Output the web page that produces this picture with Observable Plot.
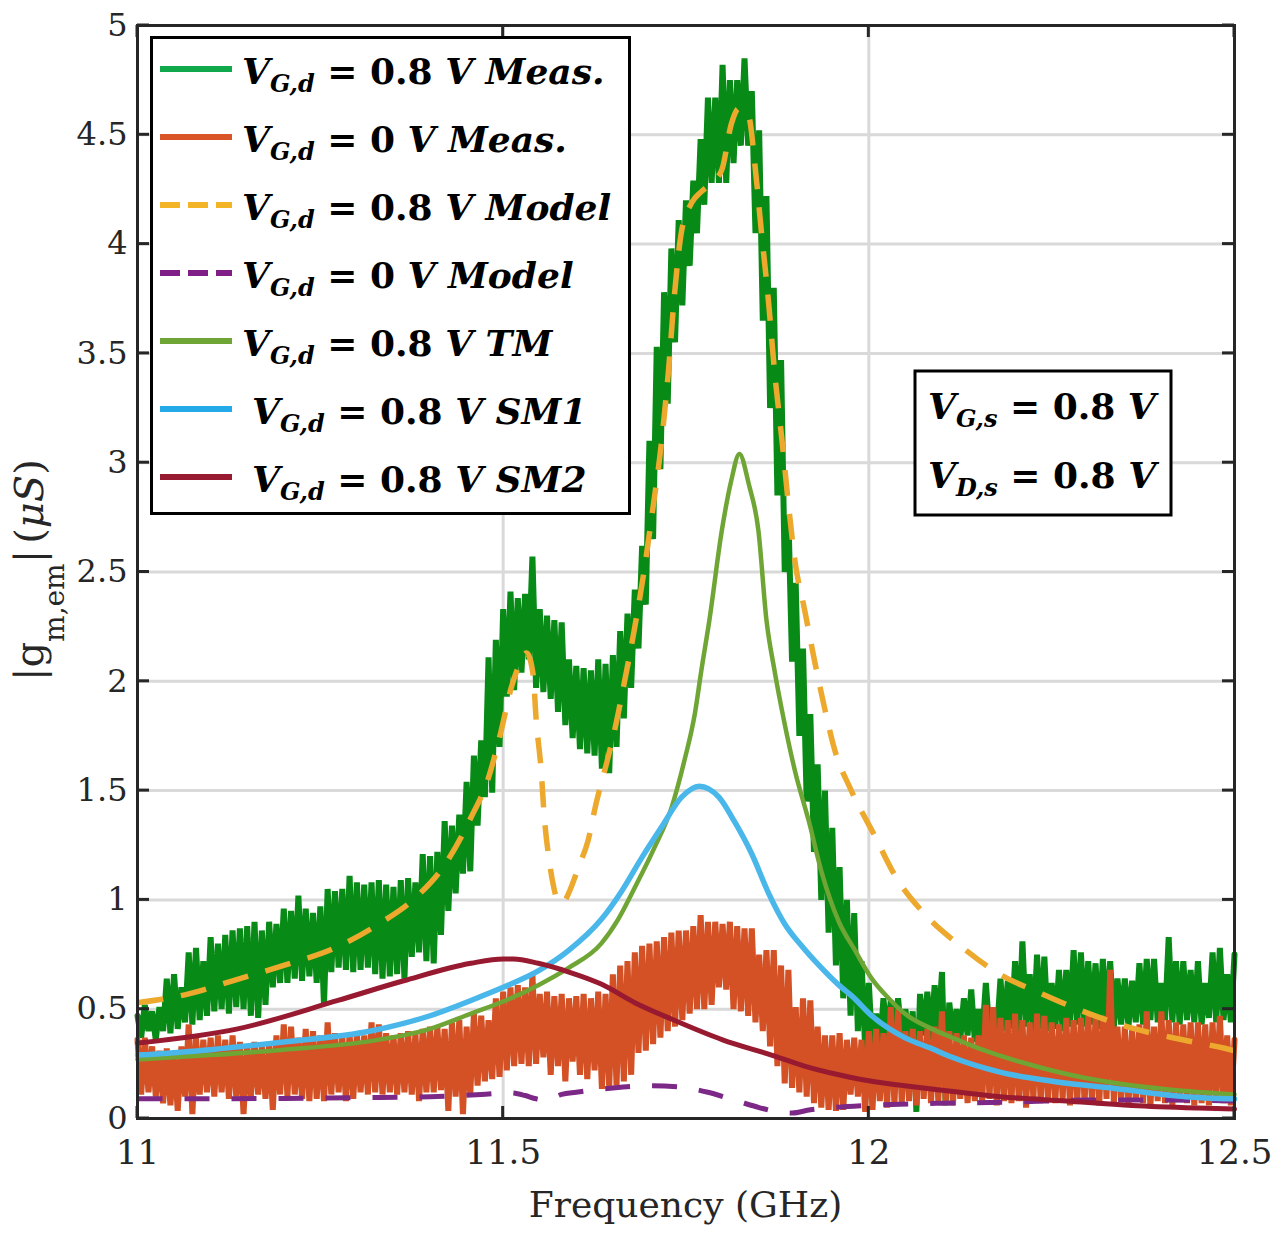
<!DOCTYPE html>
<html>
<head>
<meta charset="utf-8">
<script src="https://cdn.jsdelivr.net/npm/d3@7"></script>
<script src="https://cdn.jsdelivr.net/npm/@observablehq/plot@0.6"></script>
<style>
  body { margin: 0; background: #fff; }
  #chart svg { display: block; }
</style>
</head>
<body>
<div id="chart"></div>
<script>
// ---------------- DATA ----------------
const xTicks = [11, 11.5, 12, 12.5];
const xTickLabels = ["11", "11.5", "12", "12.5"];
const yTicks = [0, 0.5, 1, 1.5, 2, 2.5, 3, 3.5, 4, 4.5, 5];
const yTickLabels = ["0", "0.5", "1", "1.5", "2", "2.5", "3", "3.5", "4", "4.5", "5"];

// measured traces: sampled from 11 GHz every 0.005 GHz
const measStart = 11.0;
const measStep = 0.005;

const measG08 = [
  0.47, 0.37, 0.52, 0.40, 0.49, 0.36, 0.51, 0.40, 0.64, 0.39,
  0.66, 0.41, 0.60, 0.44, 0.76, 0.43, 0.78, 0.45, 0.72, 0.47,
  0.83, 0.49, 0.80, 0.50, 0.84, 0.48, 0.86, 0.51, 0.87, 0.50,
  0.88, 0.47, 0.90, 0.46, 0.86, 0.52, 0.90, 0.60, 0.89, 0.62,
  0.96, 0.62, 0.95, 0.64, 1.02, 0.63, 0.96, 0.65, 0.94, 0.62,
  0.97, 0.52, 1.05, 0.67, 1.04, 0.69, 1.05, 0.68, 1.11, 0.67,
  1.08, 0.68, 1.07, 0.69, 1.08, 0.66, 1.09, 0.64, 1.07, 0.65,
  1.06, 0.66, 1.09, 0.64, 1.10, 0.74, 1.08, 0.76, 1.21, 0.72,
  1.20, 0.71, 1.22, 0.84, 1.36, 0.95, 1.34, 1.03, 1.39, 1.12,
  1.54, 1.13, 1.66, 1.34, 1.73, 1.47, 2.11, 1.49, 2.19, 1.70,
  2.33, 1.93, 2.41, 1.96, 2.38, 2.04, 2.40, 2.10, 2.57, 1.97,
  2.33, 1.95, 2.30, 1.92, 2.28, 1.86, 2.27, 1.80, 2.10, 1.74,
  2.07, 1.69, 2.06, 1.67, 2.05, 1.66, 2.10, 1.60, 2.08, 1.58,
  2.12, 1.70, 2.23, 1.83, 2.31, 1.97, 2.42, 2.15, 2.62, 2.35,
  3.10, 2.65, 3.53, 2.97, 3.78, 3.27, 3.98, 3.55, 4.11, 3.72,
  4.20, 3.90, 4.29, 4.05, 4.48, 4.18, 4.67, 4.28, 4.67, 4.28,
  4.82, 4.28, 4.75, 4.37, 4.75, 4.45, 4.85, 4.45, 4.70, 4.05,
  4.52, 3.65, 4.22, 3.25, 3.80, 2.85, 3.47, 2.50, 2.76, 2.09,
  2.45, 1.75, 2.15, 1.45, 1.85, 1.22, 1.62, 1.00, 1.50, 0.85,
  1.33, 0.70, 1.15, 0.55, 1.00, 0.47, 0.94, 0.40, 0.72, 0.32,
  0.62, 0.30, 0.48, 0.31, 0.55, 0.36, 0.54, 0.38, 0.55, 0.35,
  0.50, 0.36, 0.49, 0.03, 0.57, 0.38, 0.58, 0.36, 0.61, 0.40,
  0.67, 0.06, 0.53, 0.37, 0.50, 0.36, 0.55, 0.38, 0.59, 0.35,
  0.50, 0.37, 0.62, 0.39, 0.50, 0.38, 0.64, 0.40, 0.63, 0.41,
  0.72, 0.40, 0.81, 0.42, 0.66, 0.39, 0.75, 0.41, 0.74, 0.40,
  0.62, 0.41, 0.68, 0.40, 0.68, 0.42, 0.77, 0.43, 0.76, 0.42,
  0.72, 0.43, 0.71, 0.41, 0.73, 0.44, 0.72, 0.42, 0.64, 0.43,
  0.64, 0.42, 0.63, 0.44, 0.71, 0.43, 0.73, 0.45, 0.73, 0.44,
  0.62, 0.45, 0.83, 0.44, 0.72, 0.43, 0.72, 0.45, 0.68, 0.44,
  0.72, 0.43, 0.62, 0.46, 0.76, 0.44, 0.78, 0.45, 0.66, 0.44,
  0.75
];

const measO0 = [
  0.36, 0.11, 0.37, 0.12, 0.33, 0.10, 0.31, 0.07, 0.32, 0.06,
  0.30, 0.035, 0.33, 0.10, 0.43, 0.02, 0.37, 0.11, 0.36, 0.12,
  0.37, 0.10, 0.38, 0.12, 0.36, 0.09, 0.38, 0.10, 0.35, 0.02,
  0.34, 0.10, 0.35, 0.11, 0.33, 0.09, 0.35, 0.04, 0.38, 0.11,
  0.43, 0.10, 0.42, 0.11, 0.37, 0.09, 0.41, 0.08, 0.40, 0.09,
  0.38, 0.08, 0.44, 0.11, 0.39, 0.12, 0.38, 0.08, 0.39, 0.09,
  0.39, 0.12, 0.38, 0.11, 0.44, 0.12, 0.43, 0.11, 0.39, 0.12,
  0.38, 0.11, 0.39, 0.12, 0.40, 0.11, 0.39, 0.08, 0.41, 0.12,
  0.42, 0.12, 0.42, 0.13, 0.41, 0.035, 0.44, 0.10, 0.45, 0.02,
  0.42, 0.11, 0.48, 0.15, 0.47, 0.17, 0.45, 0.18, 0.55, 0.19,
  0.58, 0.22, 0.60, 0.24, 0.61, 0.25, 0.60, 0.24, 0.66, 0.25,
  0.57, 0.28, 0.58, 0.20, 0.56, 0.24, 0.57, 0.17, 0.55, 0.26,
  0.56, 0.20, 0.57, 0.18, 0.55, 0.22, 0.58, 0.135, 0.57, 0.14,
  0.66, 0.15, 0.70, 0.17, 0.72, 0.20, 0.76, 0.30, 0.79, 0.31,
  0.80, 0.34, 0.81, 0.37, 0.83, 0.40, 0.85, 0.42, 0.86, 0.45,
  0.86, 0.48, 0.88, 0.50, 0.93, 0.50, 0.90, 0.52, 0.90, 0.60,
  0.89, 0.59, 0.90, 0.50, 0.88, 0.49, 0.87, 0.47, 0.87, 0.44,
  0.75, 0.40, 0.77, 0.33, 0.77, 0.24, 0.70, 0.16, 0.68, 0.14,
  0.51, 0.12, 0.55, 0.10, 0.54, 0.07, 0.42, 0.05, 0.38, 0.04,
  0.38, 0.035, 0.39, 0.04, 0.36, 0.11, 0.37, 0.10, 0.36, 0.03,
  0.40, 0.04, 0.41, 0.08, 0.39, 0.05, 0.51, 0.06, 0.50, 0.07,
  0.40, 0.08, 0.41, 0.06, 0.40, 0.09, 0.41, 0.07, 0.42, 0.08,
  0.49, 0.08, 0.40, 0.06, 0.39, 0.09, 0.38, 0.07, 0.37, 0.08,
  0.38, 0.07, 0.52, 0.09, 0.51, 0.06, 0.46, 0.08, 0.45, 0.07,
  0.48, 0.08, 0.45, 0.05, 0.44, 0.09, 0.48, 0.07, 0.47, 0.08,
  0.44, 0.07, 0.43, 0.09, 0.46, 0.06, 0.45, 0.08, 0.46, 0.07,
  0.47, 0.08, 0.46, 0.06, 0.47, 0.09, 0.68, 0.07, 0.42, 0.08,
  0.42, 0.06, 0.41, 0.08, 0.43, 0.07, 0.49, 0.05, 0.42, 0.08,
  0.49, 0.07, 0.45, 0.06, 0.44, 0.08, 0.43, 0.07, 0.44, 0.06,
  0.44, 0.07, 0.43, 0.06, 0.44, 0.08, 0.47, 0.07, 0.38, 0.06,
  0.36
];

// 0.8 V model
const model08F = [11.00, 11.07, 11.13, 11.20, 11.27, 11.33, 11.38, 11.42, 11.455, 11.48, 11.497, 11.511, 11.52, 11.532, 11.541, 11.545, 11.552, 11.556, 11.563, 11.569, 11.574, 11.579, 11.585, 11.592, 11.603, 11.616, 11.627, 11.641, 11.652, 11.666, 11.679, 11.692, 11.703, 11.716, 11.726, 11.734, 11.744, 11.758, 11.771, 11.785, 11.799, 11.812, 11.822, 11.836, 11.844, 11.853, 11.863, 11.871, 11.881, 11.892, 11.899, 11.912, 11.926, 11.94, 11.953, 11.976, 12.007, 12.036, 12.075, 12.125, 12.179, 12.237, 12.301, 12.364, 12.429, 12.488, 12.5];
const model08V = [0.53, 0.57, 0.63, 0.70, 0.78, 0.89, 1.01, 1.16, 1.37, 1.56, 1.77, 1.97, 2.06, 2.13, 2.03, 1.83, 1.59, 1.39, 1.18, 1.06, 1.00, 0.985, 1.00, 1.05, 1.15, 1.27, 1.44, 1.62, 1.77, 2.00, 2.23, 2.49, 2.75, 3.08, 3.42, 3.76, 4.06, 4.19, 4.24, 4.28, 4.34, 4.55, 4.62, 4.58, 4.37, 4.06, 3.73, 3.42, 3.11, 2.75, 2.55, 2.33, 2.09, 1.87, 1.69, 1.50, 1.30, 1.11, 0.94, 0.79, 0.66, 0.57, 0.48, 0.41, 0.36, 0.32, 0.31];

// 0 V model
const model0F = [11.00, 11.10, 11.20, 11.30, 11.40, 11.47, 11.51, 11.53, 11.545, 11.56, 11.58, 11.60, 11.65, 11.70, 11.74, 11.78, 11.82, 11.85, 11.875, 11.895, 11.92, 11.95, 12.00, 12.10, 12.20, 12.30, 12.40, 12.50];
const model0V = [0.09, 0.09, 0.092, 0.095, 0.10, 0.11, 0.117, 0.105, 0.09, 0.085, 0.11, 0.12, 0.14, 0.15, 0.145, 0.12, 0.08, 0.05, 0.03, 0.025, 0.04, 0.05, 0.06, 0.07, 0.075, 0.085, 0.085, 0.08];

// TM
const tmF = [11.00, 11.10, 11.20, 11.32, 11.40, 11.456, 11.50, 11.548, 11.59, 11.634, 11.657, 11.679, 11.707, 11.730, 11.748, 11.762, 11.771, 11.782, 11.799, 11.812, 11.823, 11.836, 11.849, 11.860, 11.871, 11.884, 11.899, 11.918, 11.936, 11.959, 11.981, 12.004, 12.027, 12.049, 12.086, 12.114, 12.159, 12.227, 12.296, 12.364, 12.433, 12.50];
const tmV = [0.27, 0.29, 0.315, 0.355, 0.41, 0.48, 0.535, 0.61, 0.69, 0.80, 0.91, 1.05, 1.24, 1.42, 1.64, 1.85, 2.05, 2.28, 2.69, 2.92, 3.04, 2.90, 2.69, 2.28, 2.05, 1.82, 1.59, 1.36, 1.12, 0.90, 0.77, 0.64, 0.55, 0.48, 0.41, 0.37, 0.31, 0.24, 0.185, 0.15, 0.126, 0.11];

// SM1
const sm1F = [11.00, 11.10, 11.20, 11.319, 11.40, 11.456, 11.50, 11.548, 11.59, 11.634, 11.662, 11.689, 11.716, 11.744, 11.768, 11.795, 11.816, 11.840, 11.863, 11.885, 11.908, 11.932, 11.959, 11.977, 12.004, 12.049, 12.086, 12.114, 12.182, 12.251, 12.342, 12.433, 12.50];
const sm1V = [0.29, 0.315, 0.35, 0.40, 0.47, 0.54, 0.60, 0.675, 0.77, 0.91, 1.04, 1.19, 1.33, 1.47, 1.52, 1.47, 1.36, 1.21, 1.03, 0.89, 0.79, 0.70, 0.61, 0.56, 0.47, 0.37, 0.32, 0.28, 0.21, 0.17, 0.135, 0.10, 0.09];

// SM2
const sm2F = [11.00, 11.137, 11.274, 11.364, 11.456, 11.50, 11.514, 11.548, 11.59, 11.634, 11.68, 11.73, 11.80, 11.867, 11.912, 11.959, 12.004, 12.049, 12.086, 12.18, 12.27, 12.36, 12.45, 12.50];
const sm2V = [0.345, 0.41, 0.54, 0.63, 0.71, 0.73, 0.73, 0.71, 0.67, 0.615, 0.53, 0.455, 0.36, 0.29, 0.24, 0.20, 0.17, 0.15, 0.135, 0.10, 0.08, 0.06, 0.048, 0.043];

// legend text content
const legendVals = ["0.8", "0", "0.8", "0", "0.8", "0.8", "0.8"];
const legendTags = ["Meas.", "Meas.", "Model", "Model", "TM", "SM1", "SM2"];
const legendSub = "G,d";
const boxSubs = ["G,s", "D,s"];
const boxVal = "0.8";

// ---------------- STYLE ----------------
const cGreen = "#088a17", cGreenLeg = "#0fa84a";
const cOrange = "#d35125", cOrangeLeg = "#d95426";
const cYellow = "#eca92d", cYellowLeg = "#f4b428";
const cPurple = "#7b2886", cPurpleLeg = "#7e1e86";
const cTM = "#6fa535";
const cSM1 = "#4ab7ea", cSM1Leg = "#24aae9";
const cSM2 = "#981a30";
const axisColor = "#262626";
const serif = "DejaVu Serif";

const zip = (F, V) => F.map((f, i) => ({f, v: V[i]}));
const measRows = V => V.map((v, i) => ({f: measStart + i * measStep, v}));

const lineOpts = {x: "f", y: "v"};

const plot = Plot.plot({
  width: 1282,
  height: 1236,
  marginLeft: 137,
  marginRight: 48,
  marginTop: 25,
  marginBottom: 118,
  x: {domain: [11, 12.5]},
  y: {domain: [0, 5]},
  style: {fontFamily: serif, fontSize: "32px", color: axisColor, background: "white"},
  marks: [
    Plot.gridX(xTicks.slice(1, -1), {stroke: "#d9d9d9", strokeOpacity: 1, strokeWidth: 3}),
    Plot.gridY(yTicks.slice(1, -1), {stroke: "#d9d9d9", strokeOpacity: 1, strokeWidth: 3}),
    Plot.line(measRows(measG08), {...lineOpts, stroke: cGreen, strokeWidth: 6, strokeLinejoin: "bevel"}),
    Plot.line(measRows(measO0), {...lineOpts, stroke: cOrange, strokeWidth: 6, strokeLinejoin: "bevel"}),
    Plot.line(zip(model08F, model08V), {...lineOpts, stroke: cYellow, strokeWidth: 5.5, strokeDasharray: "26,18", strokeLinecap: "butt", curve: "monotone-x"}),
    Plot.line(zip(model0F, model0V), {...lineOpts, stroke: cPurple, strokeWidth: 5, strokeDasharray: "25,22", strokeLinecap: "butt", curve: "monotone-x"}),
    Plot.line(zip(tmF, tmV), {...lineOpts, stroke: cTM, strokeWidth: 4.5, curve: "monotone-x"}),
    Plot.line(zip(sm1F, sm1V), {...lineOpts, stroke: cSM1, strokeWidth: 5.5, curve: "monotone-x"}),
    Plot.line(zip(sm2F, sm2V), {...lineOpts, stroke: cSM2, strokeWidth: 5, curve: "monotone-x"}),
    Plot.frame({stroke: axisColor, strokeWidth: 3}),
    Plot.axisX(xTicks, {tickSize: 0, tickPadding: 21, tickFormat: d => xTickLabels[xTicks.indexOf(d)], label: null, fontSize: 34}),
    Plot.axisY(yTicks, {tickSize: 0, tickPadding: 10, tickFormat: d => yTickLabels[yTicks.indexOf(d)], label: null, fontSize: 32})
  ]
});

document.getElementById("chart").appendChild(plot);

// ---------------- OVERLAYS (ticks, labels, legend) ----------------
const sx = plot.scale("x"), sy = plot.scale("y");
const X0 = sx.apply(11), X1 = sx.apply(12.5);
const Y0 = sy.apply(0), Y1 = sy.apply(5);
const root = d3.select(plot);
const tickLen = 12;

const tg = root.append("g").attr("stroke", axisColor).attr("stroke-width", 3);
xTicks.forEach(t => {
  const X = sx.apply(t);
  tg.append("line").attr("x1", X).attr("x2", X).attr("y1", Y0).attr("y2", Y0 - tickLen);
  tg.append("line").attr("x1", X).attr("x2", X).attr("y1", Y1).attr("y2", Y1 + tickLen);
});
yTicks.forEach(t => {
  const Y = sy.apply(t);
  tg.append("line").attr("x1", X0).attr("x2", X0 + tickLen).attr("y1", Y).attr("y2", Y);
  tg.append("line").attr("x1", X1).attr("x2", X1 - tickLen).attr("y1", Y).attr("y2", Y);
});

// x axis label
root.append("text")
  .attr("x", (X0 + X1) / 2).attr("y", 1217)
  .attr("text-anchor", "middle")
  .attr("font-family", serif).attr("font-size", 36).attr("fill", axisColor)
  .text("Frequency (GHz)");

// y axis label
const yl = root.append("text")
  .attr("transform", "translate(43,681) rotate(-90)")
  .attr("text-anchor", "start")
  .attr("font-family", serif).attr("font-size", 40).attr("fill", axisColor)
  .attr("xml:space", "preserve").style("white-space", "pre");
yl.append("tspan").text("|g");
yl.append("tspan").attr("font-size", 28).attr("dy", 21).text("m,em");
yl.append("tspan").attr("dy", -21).text("|");
yl.append("tspan").attr("dx", 6).text("(");
yl.append("tspan").attr("font-style", "italic").text("μS");
yl.append("tspan").text(")");

function mathLabel(parent, x, y, sub, val, tag) {
  const t = parent.append("text")
    .attr("x", x).attr("y", y)
    .attr("text-anchor", "start")
    .attr("font-family", serif).attr("font-weight", "bold").attr("font-size", 36).attr("fill", "#000")
    .attr("xml:space", "preserve").style("white-space", "pre");
  t.append("tspan").attr("font-style", "italic").text("V");
  t.append("tspan").attr("font-style", "italic").attr("font-size", 24).attr("dy", 8).text(sub);
  t.append("tspan").attr("dy", -8).text(" = " + val + " ");
  t.append("tspan").attr("font-style", "italic").text(tag ? "V " + tag : "V");
}

// legend
const lg = root.append("g");
lg.append("rect").attr("x", 151.5).attr("y", 37.5).attr("width", 478).attr("height", 476)
  .attr("fill", "white").attr("stroke", "#000").attr("stroke-width", 3);
const legColors = [cGreenLeg, cOrangeLeg, cYellowLeg, cPurpleLeg, cTM, cSM1Leg, cSM2];
const legDash = [null, null, "20,8", "20,8", null, null, null];
legendTags.forEach((tag, i) => {
  const by = 84 + i * 68;
  lg.append("line").attr("x1", 160).attr("x2", 232).attr("y1", by - 15).attr("y2", by - 15)
    .attr("stroke", legColors[i]).attr("stroke-width", 6)
    .attr("stroke-dasharray", legDash[i]);
  mathLabel(lg, i >= 5 ? 252 : 242, by, legendSub, legendVals[i], tag);
});

// bias box
const bg = root.append("g");
bg.append("rect").attr("x", 915).attr("y", 371).attr("width", 256).attr("height", 144)
  .attr("fill", "white").attr("stroke", "#000").attr("stroke-width", 3);
boxSubs.forEach((s, i) => mathLabel(bg, 928, 419 + i * 69, s, boxVal, null));
</script>
</body>
</html>
